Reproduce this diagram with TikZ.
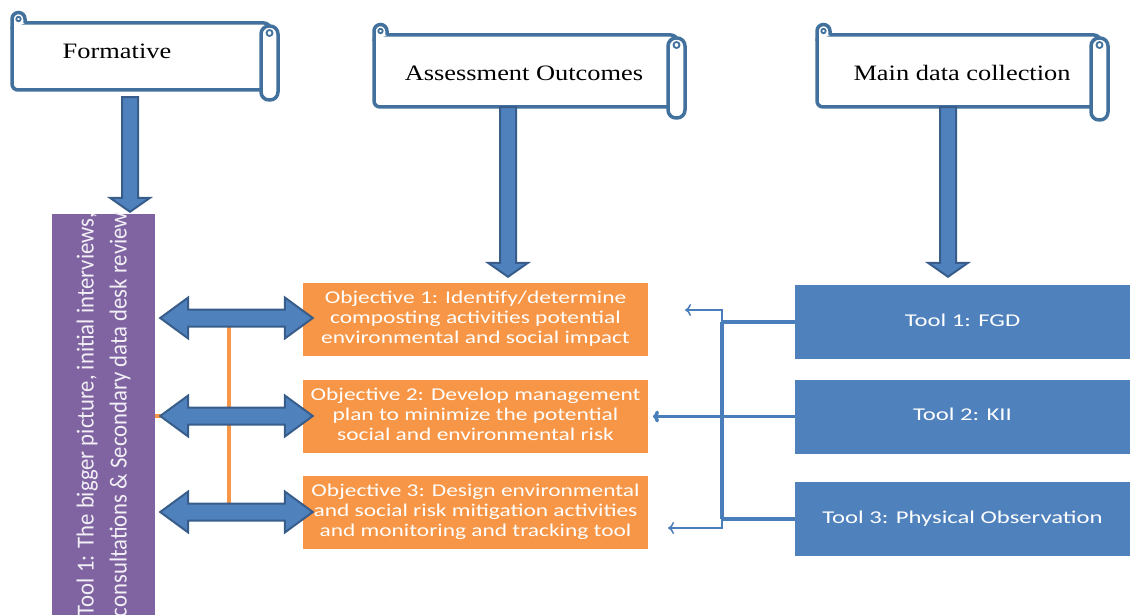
\documentclass[tikz,border=0pt]{standalone}
\usepackage{fontspec}
\setmainfont{Liberation Serif}
\newfontfamily\calfont{Carlito}
\usepackage{graphicx}
\usetikzlibrary{calc,arrows.meta}
\definecolor{orng}{HTML}{F79646}
\definecolor{blu}{HTML}{4F81BD}
\definecolor{bluedge}{HTML}{385D8A}
\definecolor{scrollc}{HTML}{41719C}
\definecolor{purp}{HTML}{8064A2}
\definecolor{linec}{HTML}{4A7EBB}

\newcommand\stxt[2][1.3]{\makebox[0pt][c]{\scalebox{#1}[1]{\calfont\fontsize{18}{20}\selectfont\begin{tabular}{@{}c@{}}#2\end{tabular}}}}
\newcommand\rtxt[1]{\scalebox{1.2}[1]{\fontsize{22}{24}\selectfont #1}}

% scroll: L T R B rollbottom
\newcommand\drawscroll[5]{%
  \draw[scrollsty, rounded corners=6pt] (#1,#2) -- (#3-8,#2) -- (#3-8,#4) -- (#1,#4) -- cycle;
  \draw[scrollsty] (#1,#2+6) -- (#1,#2-4) arc[start angle=180,end angle=360,radius=6.5] -- (#1+13,#2);
  \draw[scrollsty, line width=1.8pt] (#1+6.5,#2-4) circle[radius=2.2];
  \draw[scrollsty, rounded corners=8pt] (#3-17,#2+3) rectangle (#3,#5);
  \draw[scrollsty, line width=1.8pt] (#3-8.5,#2+10) circle[radius=3];
}
% vertical down block arrow: top point, tip point
\newcommand\downarr[2]{%
  \path[blockarr] let \p1=#1, \p2=#2 in
    (\x1-8pt,\y1) -- (\x1+8pt,\y1) -- (\x1+8pt,\y2+14pt) -- (\x1+20pt,\y2+14pt)
    -- (\x1,\y2) -- (\x1-20pt,\y2+14pt) -- (\x1-8pt,\y2+14pt) -- cycle;}
% horizontal double block arrow: left tip, right tip
\newcommand\dblarr[2]{%
  \path[blockarr] let \p1=#1, \p2=#2 in
    (\x1,\y1) -- (\x1+28pt,\y1+20.5pt) -- (\x1+28pt,\y1+8.5pt) -- (\x2-28pt,\y1+8.5pt)
    -- (\x2-28pt,\y1+20.5pt) -- (\x2,\y1) -- (\x2-28pt,\y1-20.5pt) -- (\x2-28pt,\y1-8.5pt)
    -- (\x1+28pt,\y1-8.5pt) -- (\x1+28pt,\y1-20.5pt) -- cycle;}

\tikzset{
  scrollsty/.style={draw=scrollc, line width=3.5pt, fill=white},
  blockarr/.style={fill=blu, draw=bluedge, line width=2pt, line join=miter},
  objbox/.style={fill=orng, minimum width=345pt, minimum height=73pt, inner sep=0pt, text=white},
  toolbox/.style={fill=blu, minimum width=335pt, minimum height=74pt, inner sep=0pt, text=white},
  orngline/.style={draw=orng, line width=3.5pt},
  busline/.style={draw=linec, line width=3.5pt},
  thinarr/.style={draw=linec, line width=1.5pt, -{To[length=6pt,width=12pt]}},
}

\begin{document}
\begin{tikzpicture}[x=1pt,y=-1pt]
\useasboundingbox (0,0) rectangle (1130,615);

% scrolls
\drawscroll{12}{23}{278}{90}{100}
\drawscroll{374}{35}{685}{107}{118}
\drawscroll{817}{35}{1108}{107}{120}
\path node[minimum width=258pt, minimum height=67pt, inner sep=0] (s1) at (141,56.5) {};
\path node[minimum width=303pt, minimum height=72pt, inner sep=0] (s2) at (525.5,71) {};
\path node[minimum width=283pt, minimum height=72pt, inner sep=0] (s3) at (958.5,71) {};
\node (s1t) at (117,51) {\rtxt{Formative}};
\node (s2t) at (524,73) {\rtxt{Assessment Outcomes}};
\node (s3t) at (962,73) {\rtxt{Main data collection}};

% purple box
\node[fill=purp, minimum width=103pt, minimum height=401pt, inner sep=0] (p) at (103.5,414.5) {};
\node[rotate=90, text=white!90!purp, inner sep=0] (ptxt) at (p.center)
  {\resizebox*{405pt}{66pt}{\calfont\fontsize{20}{27}\selectfont\begin{tabular}{@{}c@{}}Tool 1: The bigger picture, initial interviews,\\consultations \& Secondary data desk review\end{tabular}}};

% objectives
\node[objbox] (o1) at (475.5,319.5) {\stxt{Objective 1: Identify/determine\\composting activities potential\\environmental and social impact}};
\node[objbox] (o2) at (475.5,416) {\stxt{Objective 2: Develop management\\plan to minimize the potential\\social and environmental risk}};
\node[objbox] (o3) at (475.5,512) {\stxt{Objective 3: Design environmental\\and social risk mitigation activities\\and monitoring and tracking tool}};

% tools
\node[toolbox] (t1) at (962.5,322) {\stxt[1.37]{Tool 1: FGD}};
\node[toolbox] (t2) at (962.5,416.5) {\stxt[1.37]{Tool 2: KII}};
\node[toolbox] (t3) at (962.5,519) {\stxt[1.37]{Tool 3: Physical Observation}};

% down arrows
\coordinate (d1) at (130,0);
\coordinate (d2) at (508,0);
\coordinate (d3) at (948,0);
\downarr{($(d1 |- s1.south)+(0,7)$)}{($(d1 |- p.north)+(0,-2)$)}
\downarr{(d2 |- s2.south)}{($(d2 |- o1.north)+(0,-6)$)}
\downarr{(d3 |- s3.south)}{($(d3 |- t1.north)+(0,-8)$)}

% orange connectors
\coordinate (ov) at (229,0);
\draw[orngline] (ov |- o1.west) -- (ov |- o3.west);
\draw[orngline] (p.east |- o2.west) -- (ov |- o2.west);

% double arrows
\dblarr{($(p.east |- o1.west)+(5,-1.5)$)}{($(o1.west)+(10,0)$)}
\dblarr{($(p.east |- o2.west)+(5,0)$)}{($(o2.west)+(10,0)$)}
\dblarr{($(p.east |- o3.west)+(5,0)$)}{($(o3.west)+(10,0)$)}

% tool connectors
\coordinate (bus) at (722,0);
\coordinate (e1) at (685,310);
\coordinate (e2) at (653,0);
\coordinate (e3) at (668,528);
\draw[busline] (t1.west) -- (t1.west -| bus);
\draw[busline] (t2.west) -- (t2.west -| bus);
\draw[busline] (t3.west) -- (t3.west -| bus);
\draw[busline, line width=4.5pt] (t1.west -| bus) -- (t3.west -| bus);
\draw[thinarr] (t1.west -| bus) |- (e1);
\draw[thinarr] (t3.west -| bus) |- (e3);
\draw[busline, -{To[length=6pt,width=12pt]}] (t2.west -| bus) -- (e2 |- t2.west);
\end{tikzpicture}
\end{document}
